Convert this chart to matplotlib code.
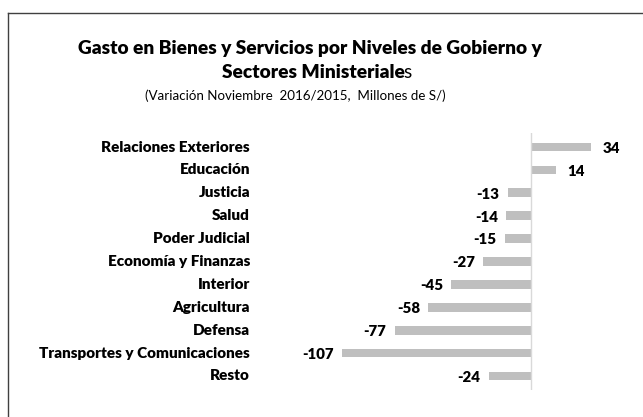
import numpy as np
import matplotlib.pyplot as plt
from matplotlib.lines import Line2D
import matplotlib.transforms as mtransforms

plt.rcParams['font.family'] = ['Lato', 'DejaVu Sans']

# DATA
sectores = ['Relaciones Exteriores', 'Educación', 'Justicia', 'Salud', 'Poder Judicial',
            'Economía y Finanzas', 'Interior', 'Agricultura', 'Defensa',
            'Transportes y Comunicaciones', 'Resto']
variacion = [34, 14, -13, -14, -15, -27, -45, -58, -77, -107, -24]

fig = plt.figure(figsize=(6.43, 4.17), dpi=100)
W, H = 643, 417

# frame: top and left edges only
fig.lines.append(Line2D([8 / W, 1], [1 - 13 / H, 1 - 13 / H], transform=fig.transFigure,
                        color='#404040', linewidth=1.0))
fig.lines.append(Line2D([8 / W, 8 / W], [0, 1 - 13 / H], transform=fig.transFigure,
                        color='#404040', linewidth=1.0))

# titles
fig.text(310 / W, 1 - 54 / H, 'Gasto en Bienes y Servicios por Niveles de Gobierno y',
         ha='center', va='baseline', fontsize=13.8, fontweight='heavy')
t1 = fig.text(313 / W, 1 - 77.5 / H, 'Sectores Ministeriale', ha='center', va='baseline',
              fontsize=13.8, fontweight='heavy')
fig.text(295 / W, 1 - 100 / H, '(Variación Noviembre  2016/2015,  Millones de S/)',
         ha='center', va='baseline', fontsize=9.6)

ax = fig.add_axes([318.6 / W, 1 - 389.7 / H, 301 / W, 256.4 / H])
y = np.arange(len(sectores))
ax.barh(y, variacion, height=0.38, color='#bfbfbf')
ax.set_xlim(-120, 50)
ax.set_ylim(len(sectores) - 0.4, -0.6)
ax.axvline(0, color='#d9d9d9', linewidth=1.0)
ax.axis('off')

for yi, v in zip(y, variacion):
    if v >= 0:
        ax.annotate(str(v), (v, yi), xytext=(8, -1), textcoords='offset points',
                    ha='left', va='center', fontsize=10.8, fontweight='heavy')
    else:
        ax.annotate(str(v), (v, yi), xytext=(-6, -1), textcoords='offset points',
                    ha='right', va='center', fontsize=10.8, fontweight='heavy')

trans = mtransforms.blended_transform_factory(fig.transFigure, ax.transData)
for yi, s in zip(y, sectores):
    ax.text(250 / W, yi, s, transform=trans, ha='right', va='center',
            fontsize=11, fontweight='heavy')

# trailing non-bold "s" as in the original
fig.canvas.draw()
bb = t1.get_window_extent()
fig.text((bb.x1 - 1) / W, 1 - 77.5 / H, 's', ha='left', va='baseline', fontsize=13.8)

fig.savefig('out.png', dpi=100)
